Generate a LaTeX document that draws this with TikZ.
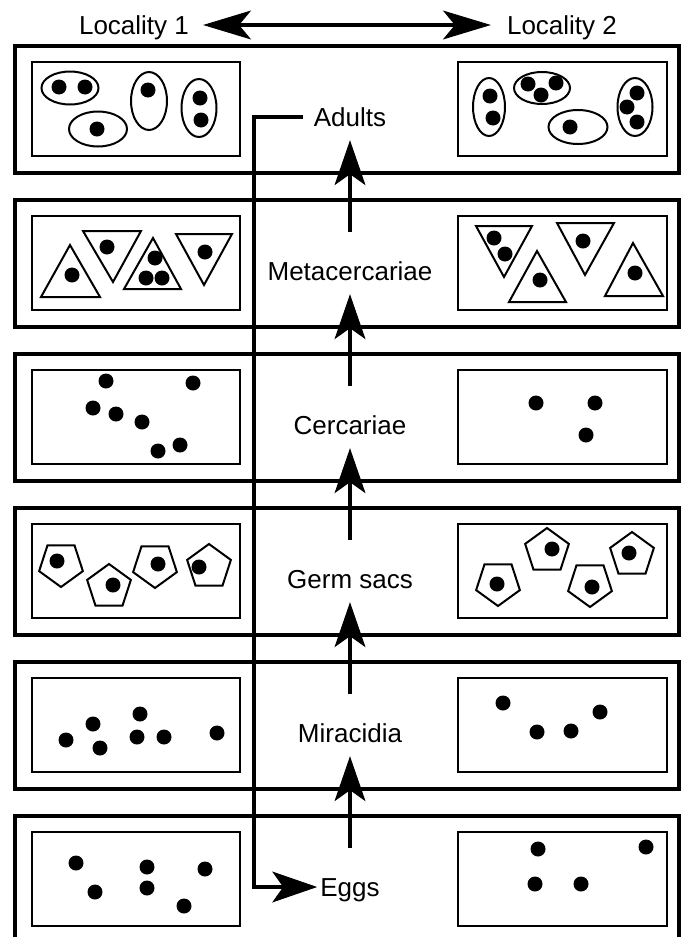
\documentclass[tikz,border=0pt]{standalone}
\usepackage{fontspec}
\setmainfont{Liberation Sans}
\usetikzlibrary{arrows.meta}

\newcommand{\germsac}[3]{\draw[sac, shift={(#1,#2)}, rotate=#3] (90:23) -- (162:23) -- (234:23) -- (306:23) -- (18:23) -- cycle;}

\begin{document}
\begin{tikzpicture}[x=1pt, y=-1pt,
  outerbox/.style={draw, line width=4.5pt},
  innerbox/.style={draw, line width=1.6pt},
  sac/.style={draw, line width=2pt, line join=miter},
  stage/.style={font=\fontsize{26}{30}\selectfont, inner sep=0pt, text height=19pt, text depth=0pt},
  flow/.style={line width=4.5pt},
  stagearr/.style={-{Stealth[length=45pt, width=31pt, inset=11pt, line width=1pt]}, line width=4.5pt},
  duoarr/.style={{Stealth[length=48pt, width=29pt, inset=12pt, line width=1pt]}-{Stealth[length=48pt, width=29pt, inset=12pt, line width=1pt]}, line width=4.5pt}]
  \useasboundingbox (0,0) rectangle (684,937);
  \clip (0,0) rectangle (684,937);

  \foreach \t in {46,200,354,508,662,816}{
    \draw[outerbox] (15,\t) rectangle (679,{\t+127});
    \draw[innerbox] (32,{\t+16}) rectangle (240,{\t+110});
    \draw[innerbox] (458,{\t+16}) rectangle (667,{\t+110});
  }

  \node[stage] (loc1) at (134,25) {Locality 1};
  \node[stage] (loc2) at (562,25) {Locality 2};
  \node[stage] (adults) at (350,117) {Adults};
  \node[stage] (meta) at (350,271) {Metacercariae};
  \node[stage] (cerc) at (350,425) {Cercariae};
  \node[stage] (germ) at (350,579) {Germ sacs};
  \node[stage] (mira) at (350,733) {Miracidia};
  \node[stage] (eggs) at (350,887) {Eggs};
  \coordinate (spinetop) at (254,117);
  \coordinate (spinebot) at (254,887);

  \draw[duoarr, shorten <=14pt, shorten >=16pt] (loc1.east) -- (loc2.west);
  \foreach \a/\b in {meta/adults, cerc/meta, germ/cerc, mira/germ, eggs/mira}
    \draw[stagearr, shorten <=29.5pt, shorten >=13.5pt] (\a.north) -- (\b.south);
  \draw[stagearr, shorten <=11pt, shorten >=3pt] (adults.west) -- (spinetop) -- (spinebot) -- (eggs.west);

  % adults
  \draw[sac] (70,88) ellipse [x radius=28.5, y radius=16.5];
  \draw[sac] (98,129) ellipse [x radius=29, y radius=17.5];
  \draw[sac] (149,101) ellipse [x radius=18, y radius=29];
  \draw[sac] (199,108) ellipse [x radius=17.5, y radius=29];
  \draw[sac] (489,107) ellipse [x radius=16, y radius=29];
  \draw[sac] (542,88) ellipse [x radius=28, y radius=16];
  \draw[sac] (578,127) ellipse [x radius=29.5, y radius=17];
  \draw[sac] (635,107) ellipse [x radius=17.5, y radius=29];
  % metacercariae
  \draw[sac] (70,245) -- (41,297) -- (100,297) -- cycle;
  \draw[sac] (83,231) -- (141,231) -- (113,282) -- cycle;
  \draw[sac] (153,238) -- (124,289) -- (181,289) -- cycle;
  \draw[sac] (176,234) -- (232,234) -- (204,285) -- cycle;
  \draw[sac] (476,226) -- (532,226) -- (504,277) -- cycle;
  \draw[sac] (537,251) -- (509,302) -- (566,302) -- cycle;
  \draw[sac] (557,223) -- (614,223) -- (585,275) -- cycle;
  \draw[sac] (633,243) -- (605,296) -- (663,296) -- cycle;
  % germ sacs
  \germsac{61}{564}{0}
  \germsac{109}{587}{180}
  \germsac{155}{565}{0}
  \germsac{209}{567}{180}
  \germsac{498}{583}{0}
  \germsac{547}{551}{180}
  \germsac{590}{584}{0}
  \germsac{632}{555}{180}

  \foreach \x/\y in {59/87, 85/87, 97/129, 148/90, 200/98, 201/120,
      490/96, 493/118, 528/84, 556/83, 541/95, 570/127, 637/93, 627/107, 637/122,
      72/275, 107/247, 155/258, 146/278, 162/278, 205/252,
      494/238, 505/254, 540/280, 583/241, 635/273,
      106/381, 193/383, 93/408, 116/414, 142/422, 158/451, 180/445,
      536/403, 595/403, 586/435,
      57/561, 113/585, 158/564, 199/567, 497/584, 552/549, 592/587, 629/553,
      66/740, 93/724, 100/748, 140/714, 137/737, 164/737, 217/733,
      503/703, 537/732, 571/731, 600/712,
      76/863, 95/892, 147/867, 147/888, 205/869, 184/906,
      538/849, 646/847, 535/884, 581/884}
    \fill (\x,\y) circle [radius=7.5];
\end{tikzpicture}
\end{document}
